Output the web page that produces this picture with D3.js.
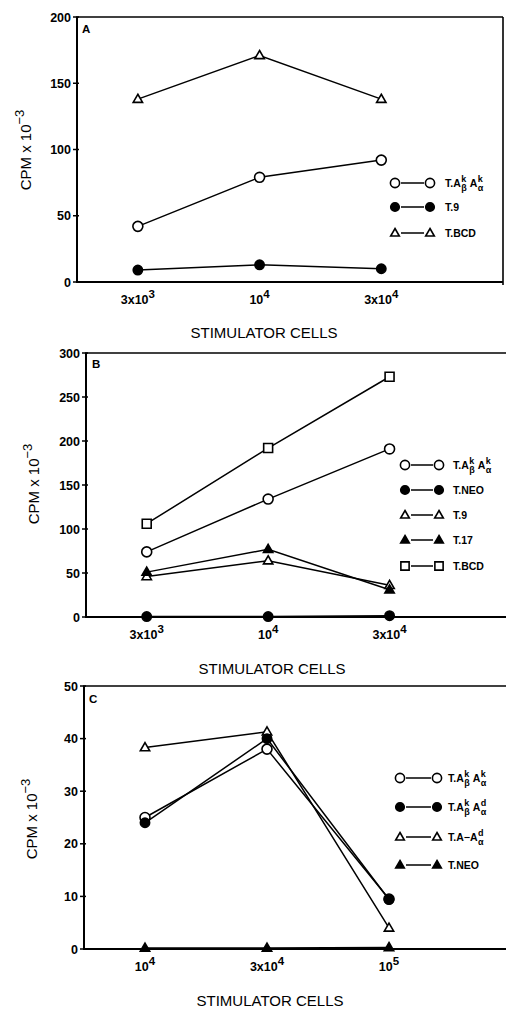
<!DOCTYPE html>
<html>
<head>
<meta charset="utf-8">
<script src="https://cdn.jsdelivr.net/npm/d3@7"></script>
<style>
  body { margin: 0; background: white; }
  svg text { font-family: "Liberation Sans", Arial, sans-serif; fill: black; }
</style>
</head>
<body>
<div id="vis"></div>
<script>
// data (CPM x 10^-3)
let ticksA = ['3x10^3', '10^4', '3x10^4'];
let ticksB = ['3x10^3', '10^4', '3x10^4'];
let ticksC = ['10^4', '3x10^4', '10^5'];

let yTicksA = [0, 50, 100, 150, 200];
let yTicksB = [0, 50, 100, 150, 200, 250, 300];
let yTicksC = [0, 10, 20, 30, 40, 50];

// panel A
let aKk = [42, 79, 92];
let aT9 = [9, 13, 10];
let aBCD = [138, 171, 138];

// panel B
let bKk = [74, 134, 191];
let bNEO = [0.5, 0.5, 1.5];
let bT9 = [46, 64, 36];
let bT17 = [51, 77, 31];
let bBCD = [106, 192, 273];

// panel C
let cKk = [25, 38, 9.5];
let cKd = [24, 40, 9.4];
let cAd = [38.3, 41.3, 4];
let cNEO = [0.2, 0.2, 0.3];

// legend labels: parts of text with stacked super/subscripts
let labKk = [{ t: 'T.A', sup: 'k', sub: 'β' }, { t: 'A', gap: 3, sup: 'k', sub: 'α' }];
let labKd = [{ t: 'T.A', sup: 'k', sub: 'β' }, { t: 'A', gap: 3, sup: 'd', sub: 'α' }];
let labAd = [{ t: 'T.A−A', sup: 'd', sub: 'α' }];

let svg = d3
  .select('#vis')
  .append('svg')
  .attr('width', 506)
  .attr('height', 1011)
  .style('background-color', 'white');

let panels = [
  {
    letter: 'A', letterX: 82, letterY: 33,
    left: 77, right: 503, top: 17, bottom: 282, yMax: 200, rightBorder: true,
    yTicks: yTicksA, xTicks: ticksA,
    cpmX: 31, cpmY: 150, titleX: 264, titleY: 338,
    series: [
      { v: aBCD, shape: 'tri', fill: false, label: [{ t: 'T.BCD' }] },
      { v: aKk, shape: 'circle', fill: false, label: labKk },
      { v: aT9, shape: 'circle', fill: true, label: [{ t: 'T.9' }] },
    ],
    legendOrder: [1, 2, 0],
    legend: { m1: 395, m2: 430, tx: 445, ys: [183, 207, 233] },
  },
  {
    letter: 'B', letterX: 92, letterY: 368,
    left: 86, right: 511, top: 353, bottom: 617, yMax: 300, rightBorder: false,
    yTicks: yTicksB, xTicks: ticksB,
    cpmX: 39, cpmY: 484, titleX: 272, titleY: 674,
    series: [
      { v: bKk, shape: 'circle', fill: false, label: labKk },
      { v: bNEO, shape: 'circle', fill: true, label: [{ t: 'T.NEO' }] },
      { v: bT9, shape: 'tri', fill: false, label: [{ t: 'T.9' }] },
      { v: bT17, shape: 'tri', fill: true, label: [{ t: 'T.17' }] },
      { v: bBCD, shape: 'square', fill: false, label: [{ t: 'T.BCD' }] },
    ],
    legendOrder: [0, 1, 2, 3, 4],
    legend: { m1: 405, m2: 439, tx: 453, ys: [465, 490, 515, 540, 566] },
  },
  {
    letter: 'C', letterX: 89, letterY: 703,
    left: 84, right: 511, top: 686, bottom: 949, yMax: 50, rightBorder: false,
    yTicks: yTicksC, xTicks: ticksC,
    cpmX: 37, cpmY: 819, titleX: 270, titleY: 1006,
    series: [
      { v: cNEO, shape: 'tri', fill: true, label: [{ t: 'T.NEO' }] },
      { v: cAd, shape: 'tri', fill: false, label: labAd },
      { v: cKk, shape: 'circle', fill: false, label: labKk },
      { v: cKd, shape: 'circle', fill: true, label: labKd },
    ],
    legendOrder: [2, 3, 1, 0],
    legend: { m1: 400, m2: 437, tx: 448, ys: [778, 807, 837, 865] },
  },
];

let symbolSize = { circle: 78, tri: 38, square: 80 };
let symbolType = { circle: d3.symbolCircle, tri: d3.symbolTriangle, square: d3.symbolSquare };

function marker(g, shape, fill, x, y, scale) {
  let sz = (fill && shape === 'circle' ? 68 : symbolSize[shape]) * (scale || 1);
  g.append('path')
    .attr('d', d3.symbol().type(symbolType[shape]).size(sz)())
    .attr('transform', `translate(${x},${y + (shape === 'tri' ? 0.5 : 0)})`)
    .attr('fill', fill ? 'black' : 'white')
    .attr('stroke', 'black')
    .attr('stroke-width', 1.6);
}

// text with superscript after a "^"
function supText(g, str, x, y, size, anchor) {
  let parts = str.split('^');
  let t = g.append('text')
    .attr('x', x).attr('y', y)
    .attr('font-size', size)
    .attr('font-weight', 'bold')
    .attr('text-anchor', anchor);
  t.append('tspan').text(parts[0]);
  if (parts[1]) {
    t.append('tspan').attr('dy', -6).attr('font-size', size - 1).text(parts[1]);
  }
  return t;
}

function legendLabel(g, parts, x, y) {
  let cx = x;
  parts.forEach((p) => {
    cx += p.gap || 0;
    let t = g.append('text')
      .attr('x', cx).attr('y', y + 4)
      .attr('font-size', 10.5)
      .attr('font-weight', 'bold')
      .text(p.t);
    cx += t.node().getComputedTextLength();
    let w = 0;
    if (p.sup) {
      let s = g.append('text').attr('x', cx + 0.5).attr('y', y - 1)
        .attr('font-size', 9).attr('font-weight', 'bold').text(p.sup);
      w = Math.max(w, s.node().getComputedTextLength());
    }
    if (p.sub) {
      let s = g.append('text').attr('x', cx + 0.5).attr('y', y + 8)
        .attr('font-size', 9).attr('font-weight', 'bold').text(p.sub);
      w = Math.max(w, s.node().getComputedTextLength());
    }
    cx += w + 0.5;
  });
}

panels.forEach((p) => {
  let g = svg.append('g');

  let x = d3.scaleLinear().domain([-0.5, 3]).range([p.left, p.right]);
  let y = d3.scaleLinear().domain([0, p.yMax]).range([p.bottom, p.top]);

  // frame
  g.append('line')
    .attr('x1', x(-0.5)).attr('x2', x(-0.5))
    .attr('y1', y(p.yMax)).attr('y2', y(0) + 1)
    .attr('stroke', 'black').attr('stroke-width', 2);
  g.append('line')
    .attr('x1', x(-0.5) - 1).attr('x2', x(3))
    .attr('y1', y(0)).attr('y2', y(0))
    .attr('stroke', 'black').attr('stroke-width', 2);
  g.append('line')
    .attr('x1', x(-0.5) - 1).attr('x2', x(3))
    .attr('y1', y(p.yMax)).attr('y2', y(p.yMax))
    .attr('stroke', 'black').attr('stroke-width', 1.6);
  if (p.rightBorder) {
    g.append('line')
      .attr('x1', x(3)).attr('x2', x(3))
      .attr('y1', y(p.yMax)).attr('y2', y(0) + 3)
      .attr('stroke', 'black').attr('stroke-width', 1.6);
  }

  // y axis ticks and labels
  p.yTicks.forEach((t) => {
    g.append('line')
      .attr('x1', x(-0.5) - 4).attr('x2', x(-0.5) + 2)
      .attr('y1', y(t)).attr('y2', y(t))
      .attr('stroke', 'black').attr('stroke-width', 1.5);
    g.append('text')
      .attr('x', x(-0.5) - 6).attr('y', y(t) + 4.5)
      .attr('text-anchor', 'end')
      .attr('font-size', 12.5)
      .attr('font-weight', 'bold')
      .text(t);
  });

  // x tick labels
  p.xTicks.forEach((t, i) => {
    supText(g, t, x(i), y(0) + 22, 12.5, 'middle');
  });

  // titles
  g.append('text')
    .attr('x', p.titleX).attr('y', p.titleY)
    .attr('text-anchor', 'middle')
    .attr('font-size', 15)
    .text('STIMULATOR CELLS');

  let cpm = g.append('text')
    .attr('transform', `translate(${p.cpmX},${p.cpmY}) rotate(-90)`)
    .attr('text-anchor', 'middle')
    .attr('font-size', 15);
  cpm.append('tspan').text('CPM x 10');
  cpm.append('tspan').attr('dy', -7).attr('font-size', 13).text('−3');

  g.append('text')
    .attr('x', p.letterX).attr('y', p.letterY)
    .attr('font-size', 11.5)
    .attr('font-weight', 'bold')
    .text(p.letter);

  // series lines
  let line = d3.line().x((d, i) => x(i)).y((d) => y(d));
  p.series.forEach((s) => {
    g.append('path')
      .datum(s.v)
      .attr('d', line)
      .attr('fill', 'none')
      .attr('stroke', 'black')
      .attr('stroke-width', 1.5);
  });
  p.series.forEach((s) => {
    s.v.forEach((d, i) => marker(g, s.shape, s.fill, x(i), y(d)));
  });

  // legend
  p.legendOrder.forEach((si, r) => {
    let s = p.series[si];
    let ly = p.legend.ys[r];
    g.append('line')
      .attr('x1', p.legend.m1 + 6).attr('x2', p.legend.m2 - 6)
      .attr('y1', ly).attr('y2', ly)
      .attr('stroke', 'black').attr('stroke-width', 1.5);
    marker(g, s.shape, s.fill, p.legend.m1, ly, 0.85);
    marker(g, s.shape, s.fill, p.legend.m2, ly, 0.85);
    legendLabel(g, s.label, p.legend.tx, ly);
  });
});
</script>
</body>
</html>
